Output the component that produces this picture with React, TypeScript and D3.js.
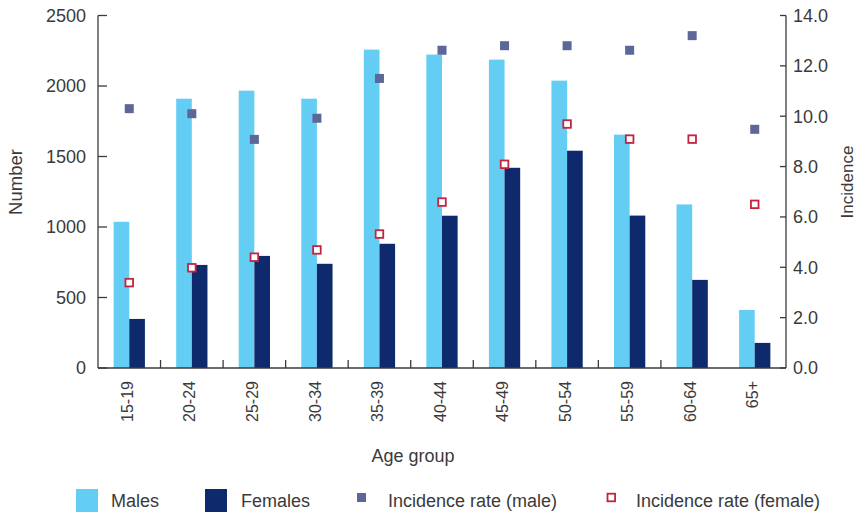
import React from "react";
import * as d3 from "d3";

const categories = ["15-19", "20-24", "25-29", "30-34", "35-39", "40-44", "45-49", "50-54", "55-59", "60-64", "65+"];
const males = [1037, 1910, 1967, 1910, 2258, 2223, 2187, 2038, 1655, 1160, 412];
const females = [348, 731, 795, 739, 881, 1080, 1420, 1541, 1081, 625, 178];
const rateMale = [10.3, 10.1, 9.08, 9.92, 11.5, 12.62, 12.8, 12.8, 12.62, 13.2, 9.48];
const rateFemale = [3.39, 3.98, 4.4, 4.69, 5.32, 6.59, 8.09, 9.69, 9.09, 9.09, 6.5];
const leftTicks = [0, 500, 1000, 1500, 2000, 2500];
const rightTicks = [0, 2, 4, 6, 8, 10, 12, 14];

const W = 857;
const H = 513;
const C_MALE = "#64cdf4";
const C_FEMALE = "#0e2a6c";
const C_RM = "#5c6699";
const C_RF = "#c3243f";
const TXT = "#3a3a3a";
const AX = "#3a3a3a";
const FONT = "'Liberation Sans', Arial, Helvetica, sans-serif";

export default function App() {
  const x = d3.scaleBand<string>().domain(categories).range([98, 786]).padding(0);
  const yL = d3.scaleLinear().domain([0, 2500]).range([368, 15.5]);
  const yR = d3.scaleLinear().domain([0, 14]).range([368, 15.5]);
  const bw = x.bandwidth() * 0.25;
  const cx = (c: string) => (x(c) as number) + x.bandwidth() / 2;
  const boundaries = categories.slice(1).map((c) => x(c) as number).filter((_, i) => i !== 9);

  return (
    <div style={{ position: "absolute", left: 0, top: 0 }}>
      <svg width={W} height={H} style={{ display: "block", fontFamily: FONT }}>
        <rect width={W} height={H} fill="#fff" />
        {categories.map((c, i) => (
          <g key={c}>
            <rect x={cx(c) - bw} y={yL(males[i])} width={bw} height={yL(0) - yL(males[i])} fill={C_MALE} />
            <rect x={cx(c)} y={yL(females[i])} width={bw} height={yL(0) - yL(females[i])} fill={C_FEMALE} />
          </g>
        ))}
        {categories.map((c, i) => (
          <g key={"m" + c}>
            <rect x={cx(c) - 4.5} y={yR(rateMale[i]) - 4.5} width={9} height={9} fill={C_RM} />
            <rect x={cx(c) - 3.8} y={yR(rateFemale[i]) - 3.8} width={7.6} height={7.6} fill="#fff" stroke={C_RF} strokeWidth={1.8} />
          </g>
        ))}
        <line x1={98} x2={98} y1={yL(2500)} y2={yL(0)} stroke={AX} strokeWidth={1.3} />
        {leftTicks.map((t) => (
          <g key={"l" + t}>
            <line x1={98} x2={107} y1={yL(t)} y2={yL(t)} stroke={AX} strokeWidth={1.3} />
            <text x={86} y={yL(t)} dy="0.35em" textAnchor="end" fontSize={18} fill={TXT}>{t}</text>
          </g>
        ))}
        <line x1={786} x2={786} y1={yR(14)} y2={yR(0)} stroke={AX} strokeWidth={1.3} />
        {rightTicks.map((t) => (
          <g key={"r" + t}>
            <line x1={780} x2={786} y1={yR(t)} y2={yR(t)} stroke={AX} strokeWidth={1.3} />
            <text x={793} y={yR(t)} dy="0.35em" textAnchor="start" fontSize={18} fill={TXT}>{t.toFixed(1)}</text>
          </g>
        ))}
        <line x1={98} x2={786} y1={368} y2={368} stroke={AX} strokeWidth={1.3} />
        {boundaries.map((b, i) => (
          <line key={"b" + i} x1={b} x2={b} y1={360} y2={368} stroke={AX} strokeWidth={1.3} />
        ))}
        {categories.map((c) => (
          <text key={"xl" + c} transform={`translate(${cx(c) - 2},381) rotate(-90)`} dy="0.35em" textAnchor="end" fontSize={16} fill={TXT}>{c}</text>
        ))}
        <text x={413} y={462} textAnchor="middle" fontSize={18} fill={TXT}>Age group</text>
        <text transform="translate(22,182) rotate(-90)" textAnchor="middle" fontSize={18.5} fill={TXT}>Number</text>
        <text transform="translate(853,182) rotate(-90)" textAnchor="middle" fontSize={17} fill={TXT}>Incidence</text>
        <rect x={76} y={489} width={22} height={23} fill={C_MALE} />
        <text x={111} y={507} fontSize={18} fill={TXT}>Males</text>
        <rect x={205} y={489} width={22} height={23} fill={C_FEMALE} />
        <text x={241} y={507} fontSize={18} fill={TXT}>Females</text>
        <rect x={357} y={493} width={9} height={9} fill={C_RM} />
        <text x={388} y={507} fontSize={18} fill={TXT}>Incidence rate (male)</text>
        <rect x={607.5} y={493.7} width={7.6} height={7.6} fill="#fff" stroke={C_RF} strokeWidth={1.8} />
        <text x={636} y={507} fontSize={18} fill={TXT}>Incidence rate (female)</text>
      </svg>
    </div>
  );
}
